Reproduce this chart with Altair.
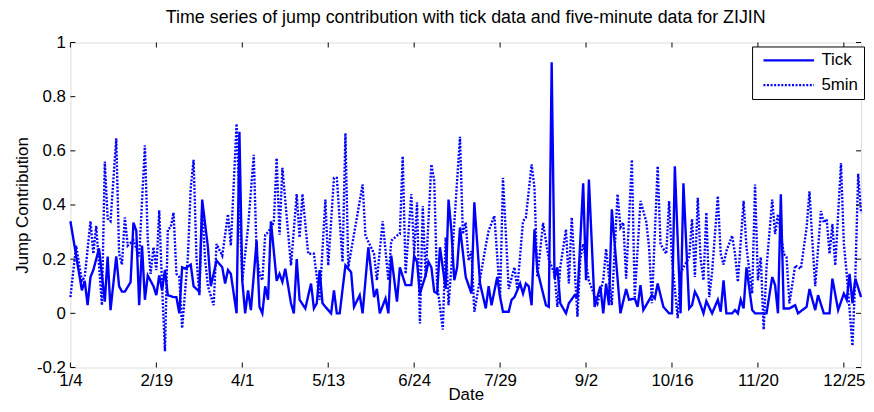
import altair as alt
import pandas as pd

title_text = "Time series of jump contribution with tick data and five-minute data for ZIJIN"
date_labels = ["1/4", "2/19", "4/1", "5/13", "6/24", "7/29", "9/2", "10/16", "11/20", "12/25"]
date_tick_pos = [1, 31, 61, 91, 121, 151, 181, 211, 241, 271]
y_ticks = [-0.2, 0, 0.2, 0.4, 0.6, 0.8, 1.0]
series_names = ["Tick", "5min"]

tick_day = [1, 5, 6, 7, 8, 9, 11, 13, 14, 15, 17, 18, 19, 20, 22, 23, 24, 25, 26, 27,
            28, 30, 31, 32, 33, 34, 35, 37, 38, 39, 40, 41, 43, 44, 46, 47, 49, 50, 51, 52,
            54, 55, 56, 57, 59, 60, 61, 62, 63, 64, 66, 67, 68, 69, 70, 71, 73, 74, 75, 76,
            78, 79, 80, 81, 83, 85, 86, 87, 88, 89, 90, 92, 93, 94, 95, 97, 99, 100, 102, 103,
            105, 107, 108, 109, 111, 112, 113, 115, 116, 118, 120, 121, 122, 123, 125, 126, 127, 128, 129, 130,
            132, 133, 134, 135, 136, 137, 139, 141, 142, 144, 146, 147, 148, 150, 151, 152, 154, 155, 156, 158,
            159, 160, 161, 162, 163, 164, 166, 167, 168, 169, 170, 171, 172, 174, 175, 177, 178, 180, 181, 182,
            184, 186, 187, 188, 189, 190, 193, 195, 196, 198, 199, 200, 201, 204, 205, 206, 208, 210, 211, 212,
            214, 215, 217, 218, 219, 220, 222, 223, 225, 227, 228, 229, 230, 232, 233, 234, 235, 236, 237, 239,
            240, 241, 244, 246, 247, 248, 249, 250, 252, 254, 255, 258, 259, 261, 262, 264, 266, 267, 269, 271,
            272, 273, 274, 275, 277]
tick_val = [0.34, 0.085, 0.12, 0.03, 0.134, 0.16, 0.24, 0.043, 0.21, 0.012, 0.21, 0.10, 0.08, 0.08, 0.115, 0.335, 0.305, 0.03, 0.25, 0.05,
            0.14, 0.10, 0.067, 0.14, 0.085, 0.16, 0.067, 0.06, 0.06, 0.0, 0.17, 0.165, 0.18, 0.10, 0.08, 0.42, 0.244, 0.10, 0.146, 0.195,
            0.17, 0.11, 0.16, 0.146, 0.0, 0.67, 0.12, 0.0, 0.085, 0.012, 0.268, 0.024, 0.0, 0.10, 0.05, 0.34, 0.12, 0.146, 0.116, 0.165,
            0.037, 0.0, 0.20, 0.05, 0.018, 0.11, 0.018, 0.037, 0.16, 0.037, 0.024, 0.0, 0.085, 0.0, 0.0, 0.177, 0.152, 0.024, 0.067, 0.0,
            0.244, 0.06, 0.09, 0.0, 0.055, 0.0, 0.213, 0.043, 0.17, 0.104, 0.104, 0.213, 0.19, 0.073, 0.14, 0.19, 0.17, 0.08, 0.073, 0.244,
            0.09, 0.42, 0.305, 0.122, 0.17, 0.317, 0.134, 0.073, 0.41, 0.11, 0.018, 0.10, 0.03, 0.134, 0.06, 0.006, 0.006, 0.05, 0.06, 0.11,
            0.073, 0.11, 0.10, 0.03, 0.31, 0.16, 0.073, 0.03, 0.024, 0.927, 0.128, 0.17, 0.037, 0.0, 0.037, 0.067, 0.06, 0.48, 0.122, 0.494,
            0.024, 0.10, 0.0, 0.11, 0.03, 0.384, 0.0, 0.09, 0.05, 0.055, 0.024, 0.104, 0.012, 0.067, 0.055, 0.11, 0.024, 0.0, 0.0, 0.543,
            0.0, 0.48, 0.018, 0.03, 0.08, 0.06, 0.0, 0.045, 0.0, 0.05, 0.006, 0.122, 0.0, 0.0, 0.012, 0.0, 0.05, 0.018, 0.17, 0.012,
            0.0, 0.0, 0.0, 0.134, 0.104, 0.0, 0.44, 0.018, 0.018, 0.03, 0.0, 0.024, 0.09, 0.012, 0.067, 0.0, 0.0, 0.128, 0.012, 0.073,
            0.05, 0.146, 0.037, 0.128, 0.06]

min5_day = [1, 3, 5, 6, 8, 9, 10, 12, 13, 14, 15, 17, 18, 19, 20, 21, 23, 25, 27, 28,
            29, 30, 31, 32, 33, 34, 35, 36, 37, 38, 39, 40, 42, 43, 44, 45, 46, 47, 48, 49,
            51, 52, 54, 56, 57, 59, 61, 63, 65, 66, 67, 68, 69, 70, 72, 73, 74, 75, 78, 80,
            81, 82, 84, 86, 88, 90, 91, 93, 94, 96, 97, 98, 103, 104, 107, 108, 110, 112, 113, 115,
            116, 117, 118, 120, 121, 122, 123, 124, 125, 127, 128, 129, 131, 132, 133, 134, 137, 138, 139, 140,
            141, 142, 146, 147, 149, 151, 152, 154, 156, 157, 159, 160, 162, 163, 164, 166, 168, 170, 171, 172,
            174, 175, 176, 178, 179, 180, 182, 185, 187, 188, 190, 192, 193, 194, 195, 197, 198, 200, 202, 203,
            204, 206, 207, 209, 210, 211, 213, 214, 217, 218, 219, 220, 221, 222, 223, 224, 225, 227, 228, 229,
            230, 232, 233, 234, 236, 237, 239, 240, 241, 242, 243, 244, 246, 247, 248, 250, 251, 252, 254, 255,
            256, 258, 259, 260, 261, 263, 264, 265, 266, 267, 268, 270, 271, 272, 274, 275, 276, 277]
min5_val = [0.06, 0.25, 0.12, 0.134, 0.34, 0.22, 0.323, 0.03, 0.56, 0.35, 0.34, 0.646, 0.22, 0.18, 0.354, 0.25, 0.27, 0.21, 0.62, 0.27,
            0.146, 0.244, 0.16, 0.38, 0.10, -0.14, 0.31, 0.317, 0.372, 0.146, 0.134, -0.055, 0.207, 0.463, 0.567, 0.207, 0.067, 0.39, 0.20, 0.10,
            0.03, 0.256, 0.213, 0.366, 0.25, 0.70, 0.12, 0.317, 0.585, 0.22, 0.146, 0.122, 0.29, 0.30, 0.335, 0.573, 0.29, 0.537, 0.177, 0.44,
            0.28, 0.44, 0.22, 0.22, 0.05, 0.42, 0.177, 0.50, 0.50, 0.19, 0.665, 0.17, 0.476, 0.287, 0.22, 0.122, 0.34, 0.122, 0.268, 0.287,
            0.293, 0.58, 0.146, 0.44, 0.22, 0.41, -0.037, 0.396, 0.134, 0.55, 0.49, 0.11, -0.06, 0.28, 0.03, 0.17, 0.652, 0.293, 0.335, 0.195,
            0.23, 0.006, 0.25, 0.305, 0.36, 0.06, 0.50, 0.09, 0.17, 0.09, 0.34, 0.354, 0.55, 0.463, 0.134, 0.334, 0.20, 0.146, 0.024, 0.17,
            0.31, 0.11, 0.354, -0.012, 0.20, 0.256, 0.12, 0.037, 0.122, 0.238, 0.03, 0.44, 0.317, 0.335, 0.128, 0.567, 0.06, 0.415, 0.34, 0.244,
            0.037, 0.543, 0.256, 0.22, 0.415, 0.20, -0.018, 0.15, 0.207, 0.348, 0.134, 0.427, 0.20, 0.122, 0.372, 0.06, 0.152, 0.433, 0.22, 0.18,
            0.23, 0.287, 0.22, 0.116, 0.415, 0.244, 0.073, 0.476, 0.122, 0.207, -0.06, 0.17, 0.42, 0.293, 0.366, 0.22, 0.207, 0.037, 0.177, 0.17,
            0.165, 0.317, 0.45, 0.268, 0.10, 0.378, 0.335, 0.348, 0.22, 0.33, 0.177, 0.555, 0.256, 0.146, -0.12, 0.134, 0.515, 0.37]

df = pd.concat([
    pd.DataFrame({"day": tick_day, "value": tick_val, "series": "Tick", "order": 1}),
    pd.DataFrame({"day": min5_day, "value": min5_val, "series": "5min", "order": 0}),
], ignore_index=True)

W, H = 798, 328
FONT = "Liberation Sans"
BLUE = "#0000ff"
FS = 17

xs = alt.Scale(domain=[1, 277], nice=False, zero=False)
ys = alt.Scale(domain=[-0.2, 1.0], nice=False, zero=False)

js_labels = "[" + ",".join("'%s'" % s for s in date_labels) + "]"
x_label_expr = js_labels + "[round((datum.value - 1) / 30)]"
y_label_expr = "datum.value < 0 ? '-' + format(-datum.value, '~g') : format(datum.value, '~g')"

leg = alt.Legend(title=None, orient="none", legendX=688, legendY=4,
                 strokeColor="black", fillColor="white", padding=6,
                 symbolType="stroke", symbolSize=2600, symbolStrokeWidth=2.4,
                 symbolOffset=4, clipHeight=16,
                 labelFont=FONT, labelFontSize=FS, labelColor="black",
                 labelOffset=6, rowPadding=8)

lines = alt.Chart(df).mark_line(strokeWidth=2.4).encode(
    x=alt.X("day:Q", scale=xs,
            axis=alt.Axis(values=date_tick_pos, labelExpr=x_label_expr, title="Date",
                          ticks=False, grid=False, domain=False, labelPadding=5,
                          titleY=32, titleBaseline="alphabetic",
                          labelFont=FONT, labelFontSize=FS,
                          titleFont=FONT, titleFontSize=FS, titleFontWeight="normal",
                          labelColor="black", titleColor="black", labelFlush=False)),
    y=alt.Y("value:Q", scale=ys,
            axis=alt.Axis(values=y_ticks, labelExpr=y_label_expr, title="Jump Contribution",
                          ticks=False, grid=False, domain=False, labelPadding=5,
                          titlePadding=5, labelFont=FONT, labelFontSize=FS,
                          titleFont=FONT, titleFontSize=FS, titleFontWeight="normal",
                          labelColor="black", titleColor="black", labelFlush=False)),
    color=alt.Color("series:N", scale=alt.Scale(domain=series_names, range=[BLUE, BLUE]), legend=leg),
    strokeDash=alt.StrokeDash("series:N", scale=alt.Scale(domain=series_names, range=[[1, 0], [2, 1.6]]), legend=leg),
    order=alt.Order("order:Q"),
)

xt = pd.DataFrame({"day": date_tick_pos})
yt = pd.DataFrame({"value": y_ticks})

bottom_ticks = alt.Chart(xt).mark_rule(color="black", strokeWidth=1).encode(
    x=alt.X("day:Q", scale=xs), y=alt.value(H), y2=alt.value(H - 5))
top_ticks = alt.Chart(xt).mark_rule(color="black", strokeWidth=1).encode(
    x=alt.X("day:Q", scale=xs), y=alt.value(0), y2=alt.value(5))
left_ticks = alt.Chart(yt).mark_rule(color="black", strokeWidth=1).encode(
    y=alt.Y("value:Q", scale=ys), x=alt.value(0), x2=alt.value(5))
right_ticks = alt.Chart(yt).mark_rule(color="black", strokeWidth=1).encode(
    y=alt.Y("value:Q", scale=ys), x=alt.value(W), x2=alt.value(W - 5))

chart = alt.layer(lines, bottom_ticks, top_ticks, left_ticks, right_ticks).properties(
    width=W, height=H,
    autosize=alt.AutoSizeParams(type="none"),
    padding={"left": 63, "top": 33, "right": 5, "bottom": 35},
    title=alt.TitleParams(text=title_text, font=FONT, fontSize=18, fontWeight="normal",
                          color="black", anchor="middle", offset=7),
).configure_view(stroke="black", strokeWidth=1).configure(background="white")

chart.save("out.html", embed_options={"renderer": "svg", "actions": False})
